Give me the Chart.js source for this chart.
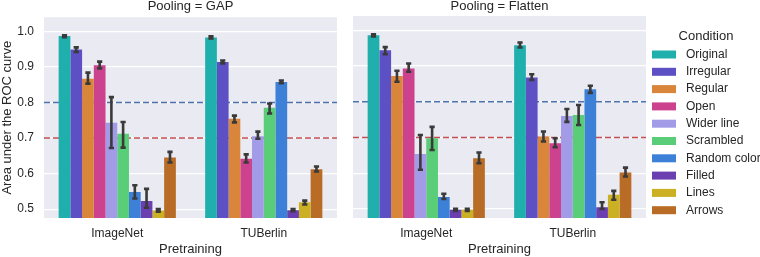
<!DOCTYPE html>
<html><head><meta charset="utf-8">
<script src="https://cdn.jsdelivr.net/npm/chart.js@4.4.1/dist/chart.umd.min.js"></script>
<style>
html,body{margin:0;padding:0;background:#fff;overflow:hidden;width:760px;height:257px}
#c1{position:absolute;left:0;top:0}
#c2{position:absolute;left:340px;top:0}
</style></head><body>
<canvas id="c1" width="340" height="257" style="width:340px;height:257px"></canvas>
<canvas id="c2" width="420" height="257" style="width:420px;height:257px"></canvas>
<script>
// ---- data ----
const categories = ['ImageNet', 'TUBerlin'];
const conditions = ['Original', 'Irregular', 'Regular', 'Open', 'Wider line', 'Scrambled', 'Random color', 'Filled', 'Lines', 'Arrows'];
const colors = ['#1fafad', '#5c50c4', '#d9863a', '#cd428f', '#a19be8', '#5acd78', '#3c80d8', '#6b3fb0', '#cbb023', '#b86c25'];
const yTicks = [0.5, 0.6, 0.7, 0.8, 0.9, 1.0];
const refLineValues = [0.8, 0.7];
const refLineColors = ['#4c72b0', '#c44e52'];
const panelTitles = ['Pooling = GAP', 'Pooling = Flatten'];

// Pooling = GAP
const gapImageNet   = [0.987, 0.949, 0.867, 0.905, 0.743, 0.712, 0.548, 0.523, 0.496, 0.645];
const gapImageNetLo = [0.984, 0.942, 0.853, 0.896, 0.672, 0.673, 0.530, 0.504, 0.493, 0.631];
const gapImageNetHi = [0.989, 0.955, 0.884, 0.915, 0.815, 0.745, 0.567, 0.557, 0.500, 0.661];
const gapTUBerlin   = [0.983, 0.914, 0.754, 0.642, 0.705, 0.785, 0.858, 0.497, 0.519, 0.612];
const gapTUBerlinLo = [0.980, 0.910, 0.744, 0.631, 0.698, 0.769, 0.854, 0.494, 0.513, 0.606];
const gapTUBerlinHi = [0.986, 0.918, 0.763, 0.654, 0.718, 0.797, 0.862, 0.500, 0.524, 0.620];

// Pooling = Flatten
const flatImageNet   = [0.986, 0.944, 0.872, 0.893, 0.654, 0.698, 0.534, 0.498, 0.498, 0.642];
const flatImageNetLo = [0.983, 0.933, 0.856, 0.884, 0.610, 0.665, 0.528, 0.495, 0.495, 0.628];
const flatImageNetHi = [0.989, 0.953, 0.887, 0.907, 0.707, 0.730, 0.543, 0.501, 0.501, 0.658];
const flatTUBerlin   = [0.958, 0.868, 0.703, 0.684, 0.760, 0.763, 0.835, 0.505, 0.540, 0.602];
const flatTUBerlinLo = [0.952, 0.861, 0.689, 0.673, 0.744, 0.735, 0.825, 0.500, 0.526, 0.591];
const flatTUBerlinHi = [0.966, 0.877, 0.717, 0.698, 0.780, 0.791, 0.845, 0.519, 0.551, 0.616];

// ---- styling ----
const FONT = "'Liberation Sans', Arial, Helvetica, sans-serif";
const TEXT = '#262626';
Chart.defaults.font.family = FONT;
Chart.defaults.color = TEXT;

function buildDatasets(im, imLo, imHi, tu, tuLo, tuHi) {
  return conditions.map((name, i) => ({
    label: name,
    data: [im[i], tu[i]],
    errLo: [imLo[i], tuLo[i]],
    errHi: [imHi[i], tuHi[i]],
    backgroundColor: colors[i],
    borderWidth: 0,
    categoryPercentage: 0.8,
    barPercentage: 1.0
  }));
}

const panelPlugin = {
  id: 'panel',
  beforeDraw(chart) {
    const {ctx, chartArea: a} = chart;
    ctx.save();
    ctx.fillStyle = '#eaeaf2';
    ctx.fillRect(a.left, a.top, a.right - a.left, a.bottom - a.top);
    ctx.restore();
  },
  beforeDatasetsDraw(chart) {
    const {ctx, chartArea: a} = chart;
    const ys = chart.scales.y;
    ctx.save();
    ctx.lineWidth = 1.5;
    ctx.setLineDash([6, 3]);
    refLineValues.forEach((v, k) => {
      const y = ys.getPixelForValue(v);
      ctx.strokeStyle = refLineColors[k];
      ctx.beginPath();
      ctx.moveTo(a.left, y);
      ctx.lineTo(a.right, y);
      ctx.stroke();
    });
    ctx.restore();
  },
  afterDatasetsDraw(chart) {
    const {ctx} = chart;
    const ys = chart.scales.y;
    ctx.save();
    ctx.strokeStyle = '#3a3a3a';
    ctx.lineWidth = 2.6;
    ctx.lineCap = 'butt';
    chart.data.datasets.forEach((ds, di) => {
      const meta = chart.getDatasetMeta(di);
      meta.data.forEach((bar, j) => {
        const x = bar.x;
        const y1 = ys.getPixelForValue(ds.errLo[j]);
        const y2 = ys.getPixelForValue(ds.errHi[j]);
        ctx.beginPath();
        ctx.moveTo(x, y1); ctx.lineTo(x, y2);
        ctx.moveTo(x - 2.6, y1); ctx.lineTo(x + 2.6, y1);
        ctx.moveTo(x - 2.6, y2); ctx.lineTo(x + 2.6, y2);
        ctx.stroke();
      });
    });
    ctx.restore();
  },
  afterDraw(chart, args, opts) {
    const {ctx, chartArea: a} = chart;
    ctx.save();
    ctx.fillStyle = TEXT;
    ctx.font = '13px ' + FONT;
    ctx.textAlign = 'center';
    ctx.textBaseline = 'middle';
    ctx.fillText(opts.title, (a.left + a.right) / 2, 6);
    if (opts.legend) {
      const x0 = a.right + 6;
      ctx.fillText('Condition', x0 + 54, 36);
      ctx.font = '12px ' + FONT;
      ctx.textAlign = 'left';
      conditions.forEach((c, i) => {
        const yc = 54.5 + i * 17.3;
        ctx.fillStyle = colors[i];
        ctx.fillRect(x0, yc - 4, 24, 8);
        ctx.fillStyle = TEXT;
        ctx.fillText(c, x0 + 34, yc);
      });
    }
    ctx.restore();
  }
};

function makeChart(id, datasets, title, showY, legend, padRight, yWidth) {
  return new Chart(document.getElementById(id), {
    type: 'bar',
    data: { labels: categories, datasets },
    plugins: [panelPlugin],
    options: {
      responsive: false,
      animation: false,
      maintainAspectRatio: false,
      layout: { padding: { top: 16, right: padRight, left: 0, bottom: 0 } },
      plugins: {
        legend: { display: false },
        tooltip: { enabled: false },
        panel: { title, legend }
      },
      scales: {
        x: {
          grid: { display: false, drawTicks: false },
          border: { display: false },
          ticks: { font: { size: 12 }, padding: 8, color: TEXT },
          title: { display: true, text: 'Pretraining', font: { size: 13 }, padding: 0, color: TEXT },
          afterFit(s) { s.height = 39; }
        },
        y: {
          min: 0.475, max: 1.04,
          grid: { color: '#ffffff', lineWidth: 1.2, drawTicks: false },
          border: { display: false },
          ticks: { display: showY, font: { size: 12 }, padding: 10, color: TEXT, callback: v => v.toFixed(1) },
          title: { display: showY, text: 'Area under the ROC curve', font: { size: 13 }, padding: 0, color: TEXT },
          afterBuildTicks(s) { s.ticks = yTicks.map(v => ({ value: v })); },
          afterFit(s) { s.width = yWidth; }
        }
      }
    }
  });
}

makeChart('c1', buildDatasets(gapImageNet, gapImageNetLo, gapImageNetHi, gapTUBerlin, gapTUBerlinLo, gapTUBerlinHi), panelTitles[0], true, false, 3, 44);
makeChart('c2', buildDatasets(flatImageNet, flatImageNetLo, flatImageNetHi, flatTUBerlin, flatTUBerlinLo, flatTUBerlinHi), panelTitles[1], false, true, 114, 13);
</script>
</body></html>
